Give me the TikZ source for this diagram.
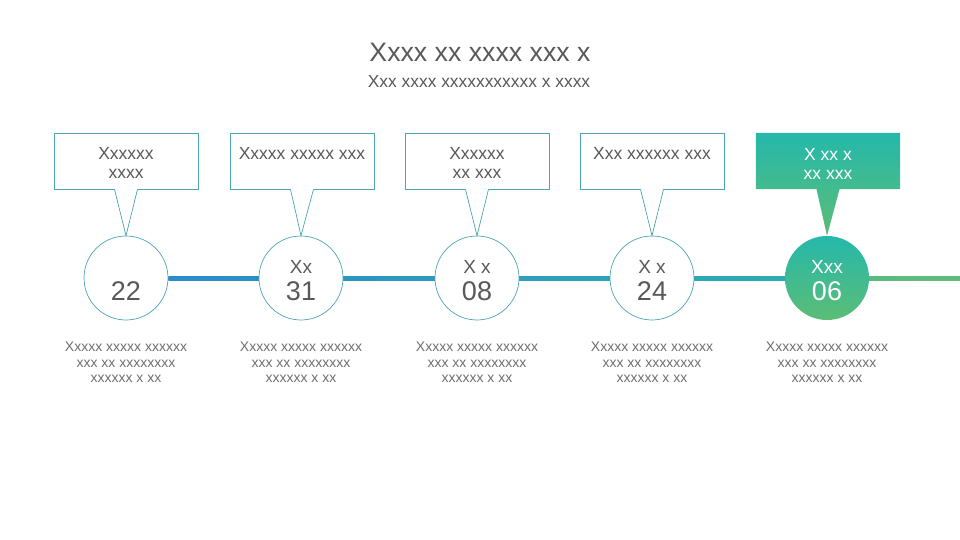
\documentclass[tikz,border=0pt]{standalone}
\usepackage{fontspec}
\setmainfont{Liberation Sans}
\usetikzlibrary{calc,backgrounds}
\definecolor{outl}{HTML}{4AA5B0}
\definecolor{txt}{HTML}{595959}
\definecolor{dtxt}{HTML}{6E6E6E}
\definecolor{lblue}{HTML}{2A8DC9}
\definecolor{lteal}{HTML}{2BAEB0}
\definecolor{lgreen1}{HTML}{55B983}
\definecolor{lgreen}{HTML}{62BC78}
\definecolor{gtop}{HTML}{25B8AB}
\definecolor{gbot}{HTML}{5CBD76}
\tikzset{
  circ/.style={circle, minimum size=84pt, inner sep=0pt, draw=outl, line width=0.7pt, fill=white},
  gcirc/.style={circle, minimum size=84pt, inner sep=0pt, top color=gtop, bottom color=gbot, draw=none},
  callbox/.style={rectangle, minimum width=144pt, minimum height=56pt, inner sep=0pt, draw=outl, line width=0.7pt, fill=white},
  gbox/.style={rectangle, minimum width=144pt, minimum height=56pt, inner sep=0pt, draw=none},
  ptr/.style={draw=outl, line width=0.7pt},
  boxtxt/.style={anchor=north, inner sep=0pt, align=center, text=txt, font=\fontsize{17.5}{19}\selectfont},
  lbl/.style={anchor=base, inner sep=0pt, text=txt, font=\fontsize{19}{22}\selectfont},
  num/.style={anchor=base, inner sep=0pt, text=txt, font=\fontsize{27}{30}\selectfont},
  desc/.style={anchor=north, inner sep=0pt, align=center, text=dtxt, font=\fontsize{14}{15.5}\selectfont},
}
\begin{document}
\begin{tikzpicture}[x=1pt,y=-1pt]
\useasboundingbox (0,0) rectangle (960,540);

% title
\node[anchor=base, inner sep=0pt, text=txt, font=\fontsize{26.7}{30}\selectfont] (title) at (480,61.7) {Xxxx xx xxxx xxx x};
\node[anchor=base, inner sep=0pt, text=txt, font=\fontsize{17.4}{20}\selectfont] (subtitle) at (479,87.3) {Xxx xxxx xxxxxxxxxxx x xxxx};

% circles
\node[circ] (c1) at (126,278) {};
\node[circ] (c2) at (301,278) {};
\node[circ] (c3) at (477,278) {};
\node[circ] (c4) at (652,278) {};
\node[gcirc] (c5) at (827,278) {};
\coordinate (lineend) at (960,278);

% timeline
\begin{scope}[on background layer]
\shade[left color=lblue, right color=lteal] ($(c1.east)+(0,-2)$) rectangle ($(c5.center)+(0,2)$);
\shade[left color=lgreen1, right color=lgreen] ($(c5.center)+(0,-2)$) rectangle ($(lineend)+(0,2)$);
\end{scope}

% callouts
\foreach \i/\x in {1/126,2/302,3/477,4/652}{
  \node[callbox] (b\i) at (\x,161) {};
  \fill[white] ($(b\i.south)+(-11.5,-0.8)$) -- (c\i.north) -- ($(b\i.south)+(11.5,-0.8)$) -- cycle;
  \draw[ptr] ($(b\i.south)+(-11.5,0)$) -- (c\i.north) -- ($(b\i.south)+(11.5,0)$);
}
\node[gbox] (b5) at (828,161) {};
\shade[top color=gtop, bottom color=gbot] (b5.north west) -- (b5.north east) -- (b5.south east) -- ($(b5.south)+(11.5,0)$) -- (c5.north) -- ($(b5.south)+(-11.5,0)$) -- (b5.south west) -- cycle;

% box texts
\node[boxtxt] (t1) at ($(b1.north)+(0,15)$) {Xxxxxx\\xxxx};
\node[boxtxt] (t2) at ($(b2.north)+(0,15)$) {Xxxxx xxxxx xxx};
\node[boxtxt] (t3) at ($(b3.north)+(0,15)$) {Xxxxxx\\xx xxx};
\node[boxtxt] (t4) at ($(b4.north)+(0,15)$) {Xxx xxxxxx xxx};
\node[boxtxt, text=white] (t5) at ($(b5.north)+(0,15)$) {X xx x\\xx xxx};

% circle texts
\node[num] (n1) at (126,300) {22};
\node[lbl] (l2) at (301,273) {Xx};
\node[num] (n2) at (301,300) {31};
\node[lbl] (l3) at (477,273) {X x};
\node[num] (n3) at (477,300) {08};
\node[lbl] (l4) at (652,273) {X x};
\node[num] (n4) at (652,300) {24};
\node[lbl, text=white] (l5) at (827,273) {Xxx};
\node[num, text=white] (n5) at (827,300) {06};

% descriptions
\foreach \i/\x in {1/126,2/301,3/477,4/652,5/827}{
  \node[desc] (d\i) at (\x,342) {Xxxxx xxxxx xxxxxx\\xxx xx xxxxxxxx\\xxxxxx x xx};
}
\end{tikzpicture}
\end{document}
